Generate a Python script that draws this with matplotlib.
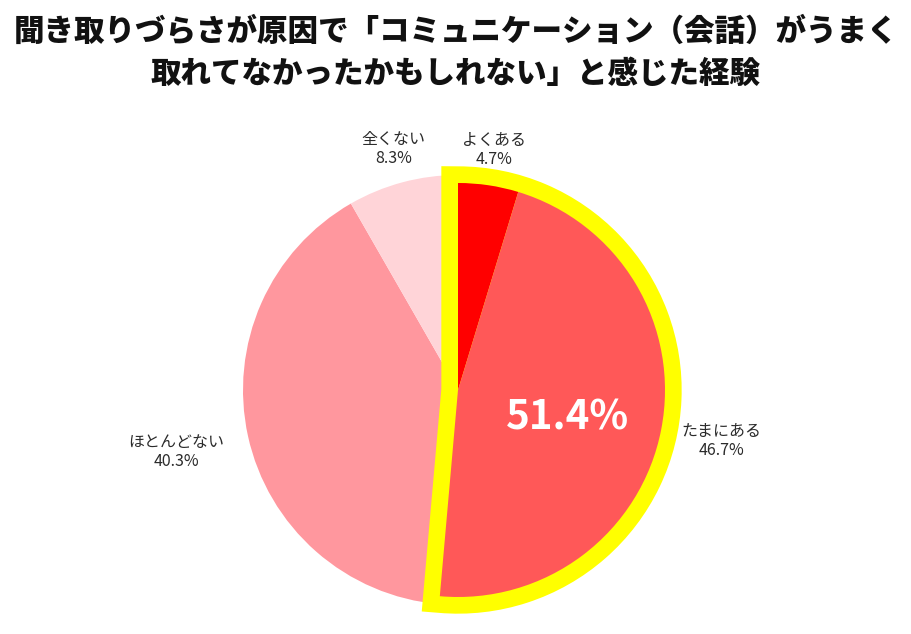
import matplotlib.pyplot as plt
from matplotlib.patches import Wedge
import numpy as np

plt.rcParams['font.family'] = ['Noto Sans CJK JP', 'DejaVu Sans']

# データ
title = '聞き取りづらさが原因で「コミュニケーション（会話）がうまく\n取れてなかったかもしれない」と感じた経験'
categories = ['よくある', 'たまにある', 'ほとんどない', '全くない']
values = [4.7, 46.7, 40.3, 8.3]
colors = ['#ff0000', '#ff5858', '#ff979e', '#ffd4d8']
highlight_count = 2  # 強調する先頭のカテゴリ数

W, H = 912, 634
R = 215.0          # 円の半径(px)
cx, cy = 458, 390  # 円の中心(px, 上から)

fig = plt.figure(figsize=(W / 100, H / 100), dpi=100)
ax = fig.add_axes([0, 0, 1, 1])

wedges, _ = ax.pie(values, colors=colors, startangle=90, counterclock=False,
                   wedgeprops=dict(linewidth=0))

# 強調部分: 少し小さくして黄色の枠で囲む
inner_r = 207 / R
for w in wedges[:highlight_count]:
    w.set_radius(inner_r)
    w.set_zorder(4)
frame = Wedge((0, 0), inner_r, wedges[highlight_count - 1].theta1, wedges[0].theta2,
              facecolor='#ffff00', edgecolor='#ffff00', linewidth=24, joinstyle='miter', zorder=3)
ax.add_patch(frame)

# ラベル
label_dist = [1.13, 1.25, 1.34, 1.16]
for w, cat, val, d in zip(wedges, categories, values, label_dist):
    ang = np.deg2rad((w.theta1 + w.theta2) / 2)
    ax.text(d * np.cos(ang), d * np.sin(ang), f'{cat}\n{val}%', ha='center', va='center',
            multialignment='center', fontsize=11.5, color='#2b2b2b', linespacing=1.15, zorder=5)

total = sum(values[:highlight_count])
ax.text(0.507, -0.13, f'{total:.1f}%', ha='center', va='center', fontsize=29,
        fontweight='bold', color='white', zorder=5)

# 軸の範囲をピクセルに合わせる
ax.set_xlim(-cx / R, (W - cx) / R)
ax.set_ylim(-(H - cy) / R, cy / R)
ax.set_aspect('equal')
ax.axis('off')

fig.text(0.5, 1 - 52 / H, title, ha='center', va='center', fontsize=22,
         fontweight='heavy', color='#111111', linespacing=1.45)

plt.savefig('out.png', dpi=100)
plt.close(fig)
